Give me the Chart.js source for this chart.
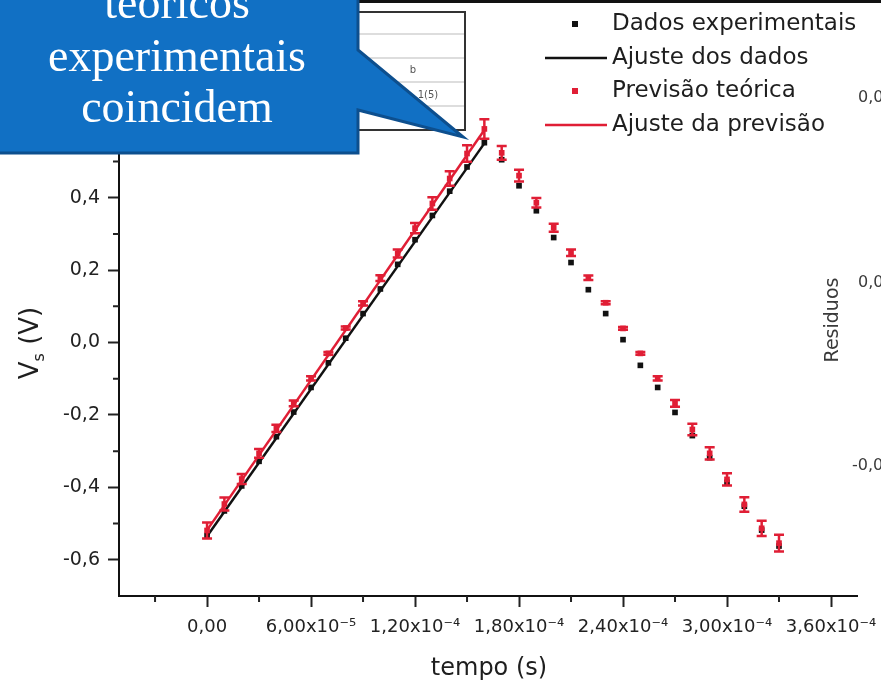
<!DOCTYPE html>
<html>
<head>
<meta charset="utf-8">
<script src="https://cdn.jsdelivr.net/npm/chart.js@4.4.0/dist/chart.umd.min.js"></script>
<style>
html, body { margin: 0; padding: 0; background: #fff; }
</style>
</head>
<body>
<canvas id="vs-chart" width="881" height="687"></canvas>
<script>
// tempo (s) of each sample
var tempo = [0, 1e-5, 2e-5, 3e-5, 4e-5, 5e-5, 6e-5, 7e-5, 8e-5, 9e-5,
             1.0e-4, 1.1e-4, 1.2e-4, 1.3e-4, 1.4e-4, 1.5e-4, 1.6e-4, 1.7e-4, 1.8e-4, 1.9e-4,
             2.0e-4, 2.1e-4, 2.2e-4, 2.3e-4, 2.4e-4, 2.5e-4, 2.6e-4, 2.7e-4, 2.8e-4, 2.9e-4,
             3.0e-4, 3.1e-4, 3.2e-4, 3.3e-4];

// Vs (V) measured
var dadosExperimentais = [-0.533, -0.465, -0.396, -0.328, -0.260, -0.192, -0.124, -0.056, 0.012, 0.080,
                          0.148, 0.216, 0.284, 0.351, 0.418, 0.485, 0.552, 0.505, 0.433, 0.364,
                          0.290, 0.221, 0.146, 0.080, 0.008, -0.063, -0.124, -0.193, -0.257, -0.318,
                          -0.386, -0.452, -0.518, -0.562];

// Vs (V) predicted, with its uncertainty
var previsaoTeorica = [-0.519, -0.446, -0.377, -0.306, -0.237, -0.168, -0.099, -0.030, 0.040, 0.108,
                       0.178, 0.246, 0.316, 0.384, 0.453, 0.522, 0.590, 0.524, 0.461, 0.386,
                       0.317, 0.248, 0.179, 0.110, 0.039, -0.030, -0.099, -0.168, -0.240, -0.306,
                       -0.378, -0.447, -0.513, -0.554];
var erroPrevisao = [0.022, 0.018, 0.014, 0.012, 0.010, 0.008, 0.006, 0.004, 0.004, 0.006,
                    0.008, 0.011, 0.014, 0.017, 0.020, 0.023, 0.027, 0.019, 0.016, 0.013,
                    0.011, 0.009, 0.006, 0.004, 0.004, 0.004, 0.006, 0.009, 0.016, 0.017,
                    0.017, 0.020, 0.021, 0.023];

// linear fits over the rising half
var tempoAjuste = [0, 1.6e-4];
var ajusteDados = [-0.535, 0.550];
var ajustePrevisao = [-0.518, 0.587];

var xTicks = [0, 6e-5, 1.2e-4, 1.8e-4, 2.4e-4, 3.0e-4, 3.6e-4];
var xTickLabels = ['0,00', '6,00x10\u207B\u2075', '1,20x10\u207B\u2074', '1,80x10\u207B\u2074',
                   '2,40x10\u207B\u2074', '3,00x10\u207B\u2074', '3,60x10\u207B\u2074'];
var xMinorTicks = [-3e-5, 3e-5, 9e-5, 1.5e-4, 2.1e-4, 2.7e-4, 3.3e-4];
var yTicks = [-0.6, -0.4, -0.2, 0, 0.2, 0.4, 0.6, 0.8];
var yTickLabels = ['-0,6', '-0,4', '-0,2', '0,0', '0,2', '0,4', '0,6', '0,8'];
var yMinorTicks = [-0.5, -0.3, -0.1, 0.1, 0.3, 0.5, 0.7, 0.9];

var vermelho = '#e01e35';
var preto = '#111111';

function pares(xs, ys) {
    return xs.map(function (v, i) { return { x: v, y: ys[i] }; });
}

var extras = {
    id: 'extras',
    afterDatasetsDraw: function (chart) {
        var ctx = chart.ctx, x = chart.scales.x, y = chart.scales.y;
        ctx.save();
        ctx.strokeStyle = vermelho;
        ctx.lineWidth = 2.5;
        tempo.forEach(function (t, i) {
            var px = x.getPixelForValue(t);
            var top = y.getPixelForValue(previsaoTeorica[i] + erroPrevisao[i]);
            var bot = y.getPixelForValue(previsaoTeorica[i] - erroPrevisao[i]);
            ctx.beginPath();
            ctx.moveTo(px, top); ctx.lineTo(px, bot);
            ctx.moveTo(px - 5, top); ctx.lineTo(px + 5, top);
            ctx.moveTo(px - 5, bot); ctx.lineTo(px + 5, bot);
            ctx.stroke();
        });
        ctx.restore();
    },
    afterDraw: function (chart) {
        var ctx = chart.ctx, x = chart.scales.x, y = chart.scales.y, area = chart.chartArea;
        ctx.save();

        // minor ticks
        ctx.strokeStyle = '#222';
        ctx.lineWidth = 2;
        ctx.beginPath();
        xMinorTicks.forEach(function (v) {
            var px = x.getPixelForValue(v);
            ctx.moveTo(px, area.bottom); ctx.lineTo(px, area.bottom + 6);
        });
        yMinorTicks.forEach(function (v) {
            var py = y.getPixelForValue(v);
            ctx.moveTo(area.left, py); ctx.lineTo(area.left - 6, py);
        });
        ctx.stroke();

        // top frame line
        ctx.lineWidth = 3;
        ctx.strokeStyle = '#111';
        ctx.beginPath();
        ctx.moveTo(area.left, 1.5); ctx.lineTo(881, 1.5);
        ctx.stroke();

        // axis titles
        ctx.fillStyle = '#1e1e1e';
        ctx.font = '24px "DejaVu Sans"';
        ctx.textAlign = 'center';
        ctx.textBaseline = 'middle';
        ctx.fillText('tempo (s)', 489, 669);

        ctx.save();
        ctx.translate(31, 343);
        ctx.rotate(-Math.PI / 2);
        ctx.font = '26px "DejaVu Sans"';
        var wV = ctx.measureText('V').width;
        ctx.font = '16px "DejaVu Sans"';
        var wS = ctx.measureText('s').width;
        ctx.font = '26px "DejaVu Sans"';
        var wR = ctx.measureText(' (V)').width;
        var x0 = -(wV + wS + wR) / 2;
        ctx.textAlign = 'left';
        ctx.fillText('V', x0, 0);
        ctx.font = '16px "DejaVu Sans"';
        ctx.fillText('s', x0 + wV, 9);
        ctx.font = '26px "DejaVu Sans"';
        ctx.fillText(' (V)', x0 + wV + wS, 0);
        ctx.restore();

        // residual axis texts at the right edge
        ctx.font = '16px "DejaVu Sans"';
        ctx.fillStyle = '#3a3a3a';
        ctx.textAlign = 'left';
        ctx.fillText('0,0', 858, 98);
        ctx.fillText('0,0', 858, 283);
        ctx.fillText('-0,0', 852, 466);
        ctx.save();
        ctx.translate(833, 320);
        ctx.rotate(-Math.PI / 2);
        ctx.textAlign = 'center';
        ctx.font = '19px "DejaVu Sans"';
        ctx.fillText('Residuos', 0, 0);
        ctx.restore();

        // legend
        var itens = [
            { texto: 'Dados experimentais', cor: preto, tipo: 'ponto', y: 24 },
            { texto: 'Ajuste dos dados', cor: preto, tipo: 'linha', y: 58 },
            { texto: 'Previs\u00e3o te\u00f3rica', cor: vermelho, tipo: 'ponto', y: 91 },
            { texto: 'Ajuste da previs\u00e3o', cor: vermelho, tipo: 'linha', y: 125 }
        ];
        ctx.font = '23px "DejaVu Sans"';
        ctx.textAlign = 'left';
        itens.forEach(function (it) {
            if (it.tipo === 'ponto') {
                ctx.fillStyle = it.cor;
                ctx.fillRect(572, it.y - 3, 6, 6);
            } else {
                ctx.strokeStyle = it.cor;
                ctx.lineWidth = 2.5;
                ctx.beginPath();
                ctx.moveTo(545, it.y); ctx.lineTo(607, it.y);
                ctx.stroke();
            }
            ctx.fillStyle = '#1e1e1e';
            ctx.fillText(it.texto, 612, it.y);
        });

        // fit table (mostly hidden behind the callout)
        ctx.fillStyle = '#fff';
        ctx.fillRect(340, 12, 125, 118);
        ctx.strokeStyle = '#bbb';
        ctx.lineWidth = 1;
        [34, 58, 82, 106].forEach(function (ly) {
            ctx.beginPath(); ctx.moveTo(340, ly); ctx.lineTo(465, ly); ctx.stroke();
        });
        ctx.strokeStyle = '#333';
        ctx.lineWidth = 2;
        ctx.strokeRect(340, 12, 125, 118);
        ctx.fillStyle = '#555';
        ctx.font = '10px "DejaVu Sans"';
        ctx.textAlign = 'center';
        ctx.fillText('b', 413, 70);
        ctx.fillText('1(5)', 428, 95);

        // callout
        ctx.beginPath();
        ctx.moveTo(-5, -5);
        ctx.lineTo(358, -5);
        ctx.lineTo(358, 50);
        ctx.lineTo(463, 137);
        ctx.lineTo(358, 110);
        ctx.lineTo(358, 153);
        ctx.lineTo(-5, 153);
        ctx.closePath();
        ctx.fillStyle = '#1170c4';
        ctx.fill();
        ctx.lineWidth = 3;
        ctx.strokeStyle = '#0d4f8e';
        ctx.stroke();

        ctx.fillStyle = '#fff';
        ctx.font = '46px "Liberation Serif"';
        ctx.textAlign = 'center';
        ctx.textBaseline = 'alphabetic';
        ctx.fillText('te\u00f3ricos', 177, 18);
        ctx.fillText('experimentais', 177, 71);
        ctx.fillText('coincidem', 177, 122);

        ctx.restore();
    }
};

var ctx = document.getElementById('vs-chart');

var chart = new Chart(ctx, {
    type: 'scatter',
    data: {
        datasets: [{
            label: 'Dados experimentais',
            data: pares(tempo, dadosExperimentais),
            pointStyle: 'rect',
            pointRadius: 4,
            backgroundColor: preto,
            borderWidth: 0,
            order: 4
        }, {
            label: 'Ajuste dos dados',
            type: 'line',
            data: pares(tempoAjuste, ajusteDados),
            borderColor: preto,
            borderWidth: 2.5,
            pointRadius: 0,
            order: 3
        }, {
            label: 'Ajuste da previs\u00e3o',
            type: 'line',
            data: pares(tempoAjuste, ajustePrevisao),
            borderColor: vermelho,
            borderWidth: 2.5,
            pointRadius: 0,
            order: 2
        }, {
            label: 'Previs\u00e3o te\u00f3rica',
            data: pares(tempo, previsaoTeorica),
            pointStyle: 'rect',
            pointRadius: 4,
            backgroundColor: vermelho,
            borderWidth: 0,
            order: 1
        }]
    },
    options: {
        responsive: false,
        animation: false,
        layout: { padding: { left: 0, right: 24, top: 3, bottom: 0 } },
        plugins: {
            legend: { display: false },
            tooltip: { enabled: false }
        },
        scales: {
            x: {
                type: 'linear',
                min: -5.08e-5,
                max: 3.75e-4,
                afterBuildTicks: function (s) { s.ticks = xTicks.map(function (v) { return { value: v }; }); },
                afterFit: function (s) { s.height = 91; s.paddingLeft = 0; s.paddingRight = 0; },
                grid: { drawOnChartArea: false, drawTicks: true, tickLength: 11, tickWidth: 2, tickColor: '#222' },
                border: { color: '#111', width: 2 },
                ticks: {
                    color: '#222',
                    font: { family: 'DejaVu Sans', size: 18 },
                    padding: 10,
                    maxRotation: 0,
                    autoSkip: false,
                    callback: function (v, i) { return xTickLabels[i]; }
                }
            },
            y: {
                min: -0.70,
                max: 0.935,
                afterBuildTicks: function (s) { s.ticks = yTicks.map(function (v) { return { value: v }; }); },
                afterFit: function (s) { s.width = 119; s.paddingTop = 0; s.paddingBottom = 0; },
                grid: { drawOnChartArea: false, drawTicks: true, tickLength: 11, tickWidth: 2, tickColor: '#222' },
                border: { color: '#111', width: 2 },
                ticks: {
                    color: '#222',
                    font: { family: 'DejaVu Sans', size: 19 },
                    padding: 8,
                    callback: function (v, i) { return yTickLabels[i]; }
                }
            }
        }
    },
    plugins: [extras]
});
</script>
</body>
</html>
